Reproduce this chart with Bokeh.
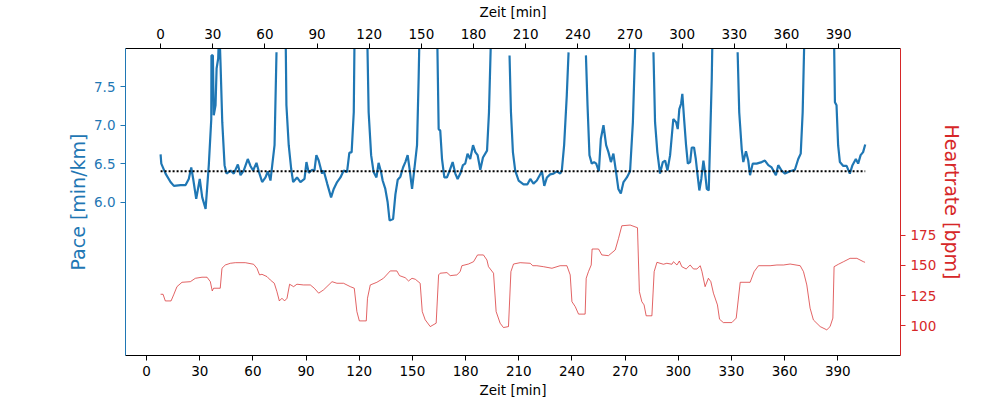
import numpy as np
from bokeh.plotting import figure
from bokeh.models import Range1d, LinearAxis, FixedTicker, ColumnDataSource
from bokeh.embed import file_html
from bokeh.resources import INLINE

nan = float("nan")

# pace over time (bottom time axis), nan = break in the line
pace_time = [7.9, 8.3, 10.7, 13.5, 15.4, 19.2, 22.0, 23.8, 25.2, 26.3, 28.0, 30.0, 31.4, 33.3, 35.1,
             36.5, 36.6, 37.4, 37.9, 38.9, 39.5, 40.4, 41.0, 41.7, 42.7, 44.0, 45.1, 47.4, 49.2,
             51.5, 53.0, 54.8, 57.1, 58.6, 60.1, 62.0, 63.3, 65.2, 67.1, 68.4, 69.9, 70.9, 72.2,
             73.3, 75.0,
             78.4, 78.9, 80.2, 81.6, 82.7, 84.9, 86.8, 89.1, 90.2, 91.5, 93.4, 94.7, 95.8, 97.1,
             99.0, 99.9, 101.9, 104.1, 105.6, 107.5, 109.4, 111.2, 113.1, 114.4, 115.7, 116.9,
             117.4, 124.4, 125.3, 126.7, 128.1, 129.7, 130.9, 132.3, 133.2, 134.7, 136.0, 137.1,
             139.1, 140.4, 141.7, 143.2, 144.7, 146.0, 147.3, 148.4, 149.8, 151.1, 152.6, 153.5,
             154.1, 163.9, 164.8, 165.7, 166.7, 168.0, 169.5, 171.0, 172.7, 174.2, 175.5, 177.0,
             178.5, 179.8, 181.1, 182.6, 184.2, 185.5, 186.8, 188.3, 189.8, 192.1, 193.2, 194.5,
             200.0,
             204.8, 205.6, 206.7, 208.0, 209.9, 212.7, 214.9, 216.5, 218.3, 220.2, 223.1, 224.4,
             225.9, 227.7, 229.6, 231.5, 233.4, 234.3, 235.6, 237.1, 238.1, 243.0,
             247.9, 248.8, 249.9, 251.2, 252.5, 253.7, 255.2, 256.3, 257.8, 259.3, 260.6, 262.0,
             263.4, 264.9, 266.2, 267.6, 269.1, 271.0, 272.8, 274.4, 275.6, 276.2, 281.0,
             286.0, 286.9, 288.2, 289.7, 291.3, 292.6, 293.9, 295.4, 297.2, 298.8, 299.7, 300.6,
             301.6, 302.3, 303.3, 304.4, 305.4, 306.7, 307.6, 308.9, 309.9, 310.8, 311.9, 313.0,
             314.2, 315.1, 316.1, 317.2, 317.9, 318.9, 319.4, 326.0,
             333.5, 334.4, 335.8, 336.7, 338.2, 339.5, 340.5, 342.0, 344.2, 347.1, 348.9, 350.8,
             352.7, 355.1, 356.4, 358.3, 360.2, 363.0, 365.8, 367.7, 369.1, 370.2, 371.3, 387.8,
             388.4, 389.3, 390.2, 391.2, 393.1, 395.0, 396.8, 398.3, 400.2, 401.5, 402.9, 404.3,
             405.5]
pace_value = [6.62, 6.50, 6.37, 6.26, 6.21, 6.22, 6.22, 6.30, 6.45, 6.30, 6.04, 6.30, 6.06, 5.91, 6.48,
              7.08, 7.91, 7.91, 7.13, 7.26, 7.74, 7.87, 8.30, 7.82, 7.04, 6.48, 6.37, 6.41, 6.37,
              6.49, 6.35, 6.41, 6.56, 6.47, 6.41, 6.51, 6.40, 6.26, 6.32, 6.40, 6.28, 6.48, 6.74,
              7.95, nan,
              8.30, 7.26, 6.74, 6.43, 6.26, 6.32, 6.26, 6.30, 6.52, 6.38, 6.42, 6.41, 6.61, 6.54,
              6.37, 6.41, 6.24, 6.06, 6.17, 6.26, 6.32, 6.41, 6.39, 6.64, 6.65, 7.17,
              8.30, 8.30, 7.17, 6.61, 6.39, 6.32, 6.51, 6.39, 6.28, 6.17, 6.00, 5.76,
              5.78, 6.10, 6.29, 6.33, 6.45, 6.52, 6.61, 6.43, 6.17, 6.43, 6.74, 7.61,
              8.30, 8.30, 6.95, 6.93, 6.56, 6.32, 6.32, 6.41, 6.52, 6.37, 6.30, 6.37,
              6.48, 6.50, 6.63, 6.56, 6.74, 6.65, 6.61, 6.42, 6.58, 6.67, 7.17, 8.30,
              nan,
              7.91, 7.17, 6.65, 6.41, 6.28, 6.23, 6.23, 6.30, 6.24, 6.28, 6.40, 6.21,
              6.32, 6.36, 6.37, 6.40, 6.37, 6.41, 6.74, 7.39, 7.95, nan,
              7.91, 7.26, 6.61, 6.50, 6.52, 6.50, 6.40, 6.82, 7.00, 6.74, 6.65, 6.52,
              6.63, 6.39, 6.17, 6.11, 6.26, 6.32, 6.40, 7.04, 7.95, 8.30, nan,
              7.95, 7.04, 6.65, 6.37, 6.52, 6.54, 6.41, 6.61, 7.08, 7.04, 6.95, 7.21,
              7.28, 7.41, 7.08, 6.74, 6.50, 6.52, 6.71, 6.71, 6.56, 6.37, 6.15, 6.30,
              6.54, 6.39, 6.17, 6.15, 6.74, 7.61, 8.30, nan,
              7.95, 7.17, 6.69, 6.52, 6.66, 6.54, 6.35, 6.50, 6.50, 6.52, 6.54, 6.48,
              6.45, 6.35, 6.48, 6.41, 6.37, 6.40, 6.42, 6.56, 6.63, 7.17, 8.30, 8.30,
              7.30, 7.26, 6.74, 6.52, 6.47, 6.47, 6.37, 6.48, 6.56, 6.50, 6.61, 6.65,
              6.75]

# heartrate over time (top time axis)
hr_time = [0.0, 1.4, 2.7, 6.0, 7.5, 9.4, 12.3, 17.1, 20.0, 23.8, 26.7, 28.6, 29.7, 30.5, 34.3,
           35.3, 37.2, 40.1, 43.0, 48.7, 53.5, 55.4, 56.9, 58.3, 61.2, 63.1, 65.4, 66.9, 68.3,
           69.8, 71.3, 72.7, 74.2, 76.5, 78.4, 82.2, 86.1, 88.4, 90.9, 93.7, 98.6, 101.4, 105.2,
           109.1, 111.4, 112.9, 114.3, 118.3, 119.0, 120.6, 124.4, 128.2, 132.1, 135.9, 137.4,
           140.7, 142.6, 144.6, 146.5, 149.3, 150.5, 152.2, 155.1, 158.5, 159.9, 160.8, 164.7,
           166.6, 170.4, 172.3, 173.3, 177.1, 180.0, 182.3, 185.7, 187.7, 188.6, 191.5, 193.0,
           195.3, 197.2, 200.1, 201.5, 203.0, 206.8, 212.6, 214.1, 216.4, 220.2, 225.1, 229.8,
           233.7, 235.6, 236.6, 238.5, 240.4, 244.2, 244.8, 246.1, 247.7, 248.2, 251.9, 253.8,
           257.6, 261.5, 263.4, 265.3, 270.1, 274.3, 275.4, 276.8, 278.1, 279.3, 282.6, 283.9,
           285.5, 289.2, 291.2, 294.1, 295.0, 297.0, 298.4, 299.8, 302.3, 304.6, 306.5, 308.5,
           310.4, 311.4, 313.2, 315.1, 316.5, 318.0, 320.3, 321.5, 323.7, 328.6, 331.1, 333.4,
           339.1, 341.4, 343.9, 350.6, 354.5, 358.3, 362.1, 367.9, 369.8, 371.7, 373.6, 375.5,
           379.4, 383.2, 385.1, 386.7, 387.4, 389.9, 392.8, 396.6, 400.5, 404.3, 405.2]
hr_value = [126.1, 126.1, 120.6, 120.6, 125.6, 132.4, 136.0, 136.5, 139.3, 140.2, 140.2, 136.5, 128.9,
            131.1, 131.1, 147.6, 150.3, 151.7, 152.2, 152.2, 150.9, 147.6, 142.1, 142.6, 140.7,
            137.9, 135.2, 128.3, 120.6, 122.8, 120.6, 122.8, 134.4, 132.4, 134.4, 133.8, 133.8,
            131.1, 127.0, 129.7, 136.5, 135.2, 135.2, 132.4, 131.1, 111.8, 104.1, 104.1, 122.8,
            133.8, 136.0, 139.3, 145.4, 145.4, 141.5, 139.8, 137.1, 139.3, 138.5, 135.2, 111.8,
            105.0, 99.4, 102.2, 142.1, 143.5, 144.0, 141.5, 142.1, 144.8, 149.7, 151.1, 153.0,
            158.6, 158.6, 154.4, 148.9, 143.5, 111.8, 102.2, 98.6, 99.4, 144.8, 151.1, 152.2,
            151.7, 149.7, 149.7, 148.9, 147.6, 149.7, 149.7, 142.1, 120.0, 115.9, 109.7, 109.7,
            139.3, 144.8, 150.3, 163.5, 163.5, 158.6, 158.0, 162.7, 172.3, 182.7, 183.3, 181.1,
            128.3, 120.0, 117.3, 108.3, 108.3, 144.8, 152.5, 150.9, 151.7, 150.9, 153.0, 150.3,
            153.6, 148.9, 147.0, 150.3, 147.0, 147.0, 149.7, 144.8, 132.4, 139.3, 136.5, 127.0,
            117.3, 105.5, 102.7, 102.7, 106.4, 136.0, 136.0, 144.8, 149.7, 149.7, 150.3, 150.3,
            151.1, 149.7, 144.8, 133.8, 114.6, 104.9, 99.4, 96.7, 99.4, 106.4, 148.9, 150.9,
            153.0, 155.8, 155.8, 153.0, 152.5]

target_pace = 6.4
time_ticks = [0, 30, 60, 90, 120, 150, 180, 210, 240, 270, 300, 330, 360, 390]
pace_ticks = [6.0, 6.5, 7.0, 7.5]
hr_ticks = [100, 125, 150, 175]

BLUE = "#1f77b4"
RED = "#d62728"
FONT = "DejaVu Sans"

p = figure(width=1000, height=400, output_backend="svg", toolbar_location=None,
           x_range=Range1d(-11.9, 425.4), y_range=Range1d(4.0, 8.0),
           min_border_left=125, min_border_right=100, min_border_top=48, min_border_bottom=44,
           x_axis_location=None, y_axis_location=None)
p.extra_x_ranges = {"top": Range1d(-20.2, 425.6)}
p.extra_y_ranges = {"hr": Range1d(75.5, 329.2)}
p.outline_line_color = None
p.xgrid.grid_line_color = None
p.ygrid.grid_line_color = None


def style_axis(ax, color, label_size):
    ax.axis_line_color = color
    ax.axis_line_width = 1
    ax.major_tick_line_color = color
    ax.major_tick_in = 0
    ax.major_tick_out = 5
    ax.minor_tick_line_color = None
    ax.major_label_text_color = color
    ax.major_label_text_font = FONT
    ax.major_label_text_font_size = "13.5px"
    ax.axis_label_text_font = FONT
    ax.axis_label_text_font_style = "normal"
    ax.axis_label_text_font_size = label_size
    ax.axis_label_text_color = color


bottom = LinearAxis(axis_label="Zeit [min]", ticker=FixedTicker(ticks=time_ticks))
style_axis(bottom, "black", "13.5px")
bottom.axis_label_standoff = 3
p.add_layout(bottom, "below")

top = LinearAxis(x_range_name="top", axis_label="Zeit [min]", ticker=FixedTicker(ticks=time_ticks))
style_axis(top, "black", "13.5px")
top.axis_label_standoff = 6
p.add_layout(top, "above")

left = LinearAxis(axis_label="Pace [min/km]", ticker=FixedTicker(ticks=pace_ticks))
style_axis(left, BLUE, "19px")
left.axis_label_standoff = 2
left.major_label_overrides = {6.0: "6.0", 6.5: "6.5", 7.0: "7.0", 7.5: "7.5"}
p.add_layout(left, "left")

right = LinearAxis(y_range_name="hr", axis_label="Heartrate [bpm]", ticker=FixedTicker(ticks=hr_ticks))
style_axis(right, RED, "19px")
right.axis_label_standoff = 2
p.add_layout(right, "right")

pace_src = ColumnDataSource(data=dict(t=np.array(pace_time, dtype=float),
                                      pace=np.array(pace_value, dtype=float)))
p.line("t", "pace", source=pace_src, line_color=BLUE, line_width=2.2)

goal_t = [np.nanmin(pace_time), np.nanmax(pace_time)]
p.line(goal_t, [target_pace, target_pace], line_color="black", line_width=2, line_dash="2 2")

hr_src = ColumnDataSource(data=dict(t=np.array(hr_time, dtype=float),
                                    hr=np.array(hr_value, dtype=float)))
p.line("t", "hr", source=hr_src, x_range_name="top", y_range_name="hr",
       line_color=RED, line_width=0.8, line_alpha=0.9)

open("out.html", "w").write(file_html(p, INLINE))
